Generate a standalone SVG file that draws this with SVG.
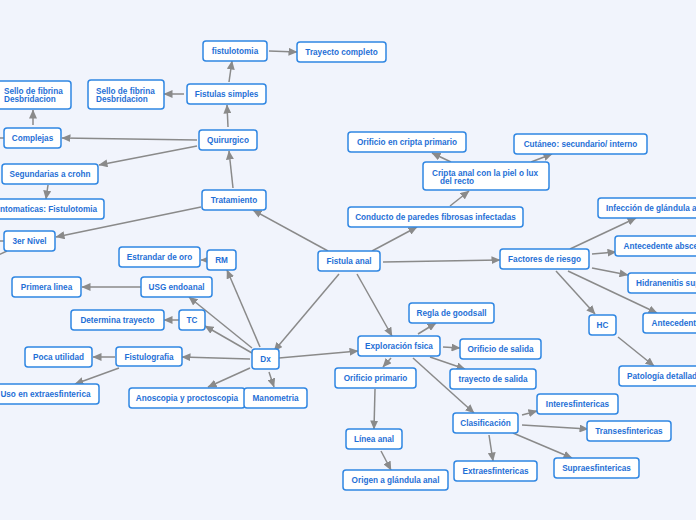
<svg xmlns="http://www.w3.org/2000/svg" width="696" height="520" viewBox="0 0 696 520">
<defs>
<marker id="ah" markerUnits="userSpaceOnUse" markerWidth="9" markerHeight="8" refX="8.5" refY="4" orient="auto">
<path d="M0,0 L9,4 L0,8 z" fill="#8a8a8a"/>
</marker>
<style>
.n rect{fill:#ffffff;stroke:#2f86e2;stroke-width:1.5}
.n text{font-family:"Liberation Sans",Arial,sans-serif;font-weight:bold;font-size:8.2px;fill:#1f70d6;text-anchor:middle}
.n text.l{text-anchor:start}
.n text.e{text-anchor:end}
#conn line{stroke:#8a8a8a;stroke-width:1.5;marker-end:url(#ah)}
#conn line.s{marker-end:none}
</style>
</defs>
<rect x="0" y="0" width="696" height="520" fill="#f1f4fc"/>
<g id="conn">
<line x1="328" y1="251" x2="253" y2="210"/>
<line x1="339" y1="274" x2="274" y2="351"/>
<line x1="372" y1="251" x2="417" y2="227"/>
<line x1="383" y1="262" x2="500" y2="260"/>
<line x1="357" y1="274" x2="392" y2="336"/>
<line x1="233" y1="188" x2="229" y2="151"/>
<line x1="201" y1="207" x2="56" y2="237"/>
<line x1="228" y1="127" x2="227" y2="105"/>
<line x1="197" y1="140" x2="62" y2="138"/>
<line x1="197" y1="146" x2="99" y2="165"/>
<line x1="229" y1="82" x2="232" y2="61"/>
<line x1="184" y1="94" x2="164" y2="94"/>
<line x1="269" y1="51" x2="297" y2="52"/>
<line x1="33" y1="125" x2="33" y2="110"/>
<line x1="48" y1="185" x2="46" y2="199"/>
<line class="s" x1="4" y1="138" x2="-30" y2="137"/>
<line class="s" x1="4" y1="241" x2="-30" y2="241"/>
<line class="s" x1="7" y1="251" x2="-30" y2="268"/>
<line x1="260" y1="347" x2="227" y2="270"/>
<line x1="252" y1="348" x2="189" y2="297"/>
<line x1="252" y1="353" x2="205" y2="326"/>
<line x1="250" y1="359" x2="182" y2="357"/>
<line x1="250" y1="368" x2="208" y2="387"/>
<line x1="269" y1="372" x2="274" y2="387"/>
<line x1="279" y1="358" x2="358" y2="351"/>
<line x1="207" y1="260" x2="201" y2="260"/>
<line x1="141" y1="287" x2="82" y2="287"/>
<line x1="179" y1="320" x2="164" y2="320"/>
<line x1="115" y1="357" x2="93" y2="357"/>
<line x1="119" y1="368" x2="75" y2="384"/>
<line x1="450" y1="206" x2="469" y2="191"/>
<line x1="451" y1="162" x2="432" y2="153"/>
<line x1="531" y1="162" x2="552" y2="154"/>
<line x1="570" y1="249" x2="636" y2="218"/>
<line x1="592" y1="254" x2="616" y2="252"/>
<line x1="592" y1="268" x2="628" y2="275"/>
<line x1="568" y1="271" x2="657" y2="313"/>
<line x1="556" y1="271" x2="595" y2="314"/>
<line x1="618" y1="337" x2="654" y2="366"/>
<line x1="418" y1="334" x2="436" y2="323"/>
<line x1="443" y1="347" x2="460" y2="348"/>
<line x1="430" y1="357" x2="465" y2="369"/>
<line x1="391" y1="358" x2="383" y2="367"/>
<line x1="413" y1="358" x2="474" y2="413"/>
<line x1="375" y1="389" x2="374" y2="429"/>
<line x1="381" y1="451" x2="391" y2="470"/>
<line x1="522" y1="415" x2="537" y2="411"/>
<line x1="522" y1="425" x2="588" y2="429"/>
<line x1="513" y1="433" x2="572" y2="458"/>
<line x1="489" y1="435" x2="493" y2="461"/>
</g>
<g id="n-fistulotomia" class="n"><rect x="203" y="41" width="64" height="20" rx="3"/><text x="235" y="54">fistulotomia</text></g>
<g id="n-trayecto-completo" class="n"><rect x="297" y="42" width="89" height="20" rx="3"/><text x="341.5" y="55">Trayecto completo</text></g>
<g id="n-fistulas-simples" class="n"><rect x="187" y="84" width="79" height="20" rx="3"/><text x="226.5" y="97">Fistulas simples</text></g>
<g id="n-sello-1" class="n"><rect x="88" y="80" width="76" height="29" rx="3"/><text class="l" x="96" y="93.5">Sello de fibrina</text><text class="l" x="96" y="102">Desbridacion</text></g>
<g id="n-sello-2" class="n"><rect x="-3" y="81" width="74" height="28" rx="3"/><text class="l" x="4" y="93.5">Sello de fibrina</text><text class="l" x="4" y="102">Desbridacion</text></g>
<g id="n-quirurgico" class="n"><rect x="199" y="130" width="58" height="20" rx="3"/><text x="228" y="143">Quirurgico</text></g>
<g id="n-complejas" class="n"><rect x="4" y="128" width="57" height="20" rx="3"/><text x="32.5" y="141">Complejas</text></g>
<g id="n-segundarias" class="n"><rect x="2" y="164" width="96" height="20" rx="3"/><text x="50" y="177">Segundarias a crohn</text></g>
<g id="n-asintomaticas" class="n"><rect x="-24" y="199" width="128" height="20" rx="3"/><text class="e" x="97" y="212">Asintomaticas: Fistulotomia</text></g>
<g id="n-tratamiento" class="n"><rect x="202" y="190" width="64" height="20" rx="3"/><text x="234" y="203">Tratamiento</text></g>
<g id="n-3er-nivel" class="n"><rect x="4" y="231" width="51" height="20" rx="3"/><text x="29.5" y="244">3er Nivel</text></g>
<g id="n-estrandar" class="n"><rect x="119" y="247" width="81" height="20" rx="3"/><text x="159.5" y="260">Estrandar de oro</text></g>
<g id="n-rm" class="n"><rect x="207" y="250" width="29" height="20" rx="3"/><text x="221.5" y="263">RM</text></g>
<g id="n-primera" class="n"><rect x="12" y="277" width="69" height="20" rx="3"/><text x="46.5" y="290">Primera linea</text></g>
<g id="n-usg" class="n"><rect x="141" y="277" width="71" height="20" rx="3"/><text x="176.5" y="290">USG endoanal</text></g>
<g id="n-determina" class="n"><rect x="71" y="310" width="93" height="20" rx="3"/><text x="117.5" y="323">Determina trayecto</text></g>
<g id="n-tc" class="n"><rect x="179" y="310" width="26" height="20" rx="3"/><text x="192" y="323">TC</text></g>
<g id="n-fistulografia" class="n"><rect x="116" y="347" width="66" height="19" rx="3"/><text x="149" y="359.5">Fistulografia</text></g>
<g id="n-poca" class="n"><rect x="25" y="347" width="67" height="20" rx="3"/><text x="58.5" y="360">Poca utilidad</text></g>
<g id="n-uso" class="n"><rect x="-7" y="384" width="106" height="20" rx="3"/><text class="e" x="90.5" y="397">Uso en extraesfinterica</text></g>
<g id="n-dx" class="n"><rect x="252" y="349" width="27" height="20" rx="3"/><text x="265.5" y="362">Dx</text></g>
<g id="n-anoscopia" class="n"><rect x="129" y="388" width="116" height="20" rx="3"/><text x="187" y="401">Anoscopia y proctoscopia</text></g>
<g id="n-manometria" class="n"><rect x="244" y="388" width="63" height="20" rx="3"/><text x="275.5" y="401">Manometria</text></g>
<g id="n-fistula-anal" class="n"><rect x="318" y="251" width="62" height="20" rx="3"/><text x="349" y="264">Fistula anal</text></g>
<g id="n-conducto" class="n"><rect x="348" y="207" width="175" height="20" rx="3"/><text x="435.5" y="220">Conducto de paredes fibrosas infectadas</text></g>
<g id="n-cripta" class="n"><rect x="423" y="162" width="126" height="28" rx="3"/><text class="l" x="432" y="175.5">Cripta anal con la piel o lux</text><text class="l" x="440" y="183.5">del recto</text></g>
<g id="n-orificio-cripta" class="n"><rect x="348" y="132" width="118" height="20" rx="3"/><text x="407" y="145">Orificio en cripta primario</text></g>
<g id="n-cutaneo" class="n"><rect x="514" y="134" width="133" height="20" rx="3"/><text x="580.5" y="147">Cutáneo: secundario/ interno</text></g>
<g id="n-factores" class="n"><rect x="500" y="249" width="89" height="20" rx="3"/><text x="544.5" y="262">Factores de riesgo</text></g>
<g id="n-infeccion" class="n"><rect x="598" y="198" width="130" height="20" rx="3"/><text class="l" x="606" y="211">Infección de glándula anal</text></g>
<g id="n-antecedente-absceso" class="n"><rect x="615" y="236" width="130" height="20" rx="3"/><text class="l" x="623.5" y="249">Antecedente absceso</text></g>
<g id="n-hidranenitis" class="n"><rect x="628" y="273" width="120" height="20" rx="3"/><text class="l" x="636" y="286">Hidranenitis supurativa</text></g>
<g id="n-antecedentes" class="n"><rect x="643" y="313" width="110" height="20" rx="3"/><text class="l" x="651.5" y="326">Antecedentes</text></g>
<g id="n-hc" class="n"><rect x="589" y="315" width="27" height="20" rx="3"/><text x="602.5" y="328">HC</text></g>
<g id="n-patologia" class="n"><rect x="619" y="366" width="110" height="20" rx="3"/><text class="l" x="627" y="379">Patología detallada</text></g>
<g id="n-regla" class="n"><rect x="409" y="303" width="85" height="20" rx="3"/><text x="451.5" y="316">Regla de goodsall</text></g>
<g id="n-exploracion" class="n"><rect x="358" y="336" width="82" height="20" rx="3"/><text x="399" y="349">Exploración fsica</text></g>
<g id="n-orificio-salida" class="n"><rect x="460" y="339" width="81" height="20" rx="3"/><text x="500.5" y="352">Orificio de salida</text></g>
<g id="n-trayecto-salida" class="n"><rect x="450" y="369" width="86" height="20" rx="3"/><text x="493" y="382">trayecto de salida</text></g>
<g id="n-orificio-primario" class="n"><rect x="335" y="368" width="81" height="20" rx="3"/><text x="375.5" y="381">Orificio primario</text></g>
<g id="n-linea" class="n"><rect x="346" y="429" width="56" height="20" rx="3"/><text x="374" y="442">Línea anal</text></g>
<g id="n-origen" class="n"><rect x="343" y="470" width="105" height="20" rx="3"/><text x="395.5" y="483">Origen a glándula anal</text></g>
<g id="n-clasificacion" class="n"><rect x="453" y="413" width="65" height="20" rx="3"/><text x="485.5" y="426">Clasificación</text></g>
<g id="n-interes" class="n"><rect x="537" y="394" width="81" height="20" rx="3"/><text x="577.5" y="407">Interesfintericas</text></g>
<g id="n-transes" class="n"><rect x="587" y="421" width="84" height="20" rx="3"/><text x="629" y="434">Transesfintericas</text></g>
<g id="n-extraes" class="n"><rect x="454" y="461" width="83" height="20" rx="3"/><text x="495.5" y="474">Extraesfintericas</text></g>
<g id="n-supraes" class="n"><rect x="554" y="458" width="85" height="20" rx="3"/><text x="596.5" y="471">Supraesfintericas</text></g>
</svg>
